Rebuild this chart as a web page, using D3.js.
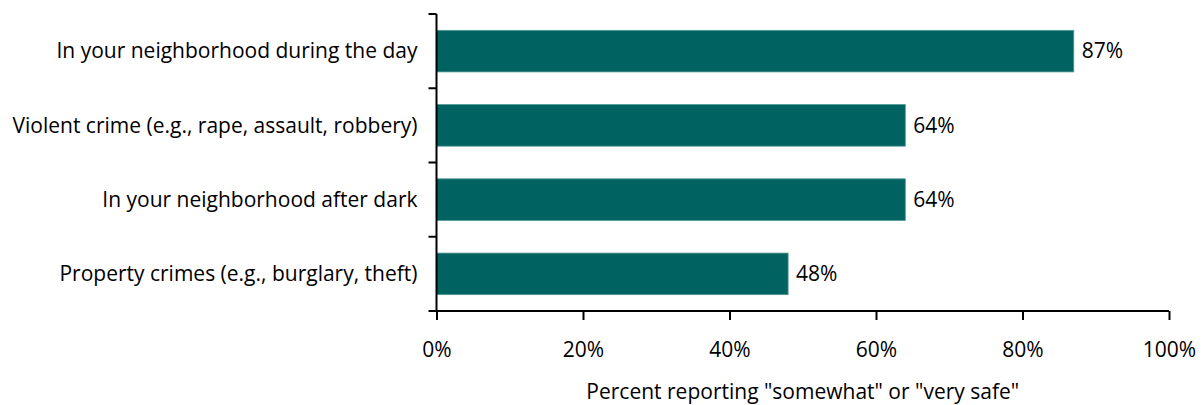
<!DOCTYPE html>
<html>
<head>
<meta charset="utf-8">
<script src="https://cdn.jsdelivr.net/npm/d3@7"></script>
<style>
  html, body { margin: 0; padding: 0; background: #fff; }
  svg text { font-family: "Open Sans", sans-serif; fill: #000; }
</style>
</head>
<body>
<svg id="chart" width="1203" height="405"></svg>
<script>
const categories = [
  "In your neighborhood during the day",
  "Violent crime (e.g., rape, assault, robbery)",
  "In your neighborhood after dark",
  "Property crimes (e.g., burglary, theft)"
];
const values = [87, 64, 64, 48];
const xTicks = [0, 20, 40, 60, 80, 100];
const xTitle = 'Percent reporting "somewhat" or "very safe"';

const svg = d3.select("#chart");
const margin = { left: 436.5, right: 34, top: 14, bottom: 94 };
const W = 1203, H = 405;
const FONT = "'Open Sans', sans-serif";
const FS = 21;

const x = d3.scaleLinear().domain([0, 100]).range([margin.left, W - margin.right]);
const y = d3.scaleBand().domain(categories).range([margin.top, H - margin.bottom]).paddingInner(0.44).paddingOuter(0.22);

// bars
svg.append("g").selectAll("rect").data(values).join("rect")
  .attr("x", x(0))
  .attr("y", (d, i) => y(categories[i]))
  .attr("width", d => x(d) - x(0))
  .attr("height", y.bandwidth())
  .attr("fill", "#006361")
  .attr("stroke", "#4f9894")
  .attr("stroke-width", 0.8);

// value labels
svg.append("g").selectAll("text").data(values).join("text")
  .attr("x", d => x(d) + 8)
  .attr("y", (d, i) => y(categories[i]) + y.bandwidth() / 2)
  .attr("dy", "0.35em")
  .attr("font-size", FS)
  .text(d => d + "%");

// y axis: ticks sit at band boundaries
const yAxisG = svg.append("g").attr("stroke", "#000").attr("stroke-width", 2);
const yBounds = d3.range(categories.length + 1).map(i => margin.top + i * y.step());
yAxisG.append("line").attr("x1", x(0)).attr("x2", x(0)).attr("y1", margin.top).attr("y2", H - margin.bottom);
yAxisG.selectAll("line.t").data(yBounds).join("line").attr("class", "t")
  .attr("x1", x(0) - 8).attr("x2", x(0)).attr("y1", d => d).attr("y2", d => d);

svg.append("g").selectAll("text").data(categories).join("text")
  .attr("x", x(0) - 19)
  .attr("y", d => y(d) + y.bandwidth() / 2)
  .attr("dy", "0.35em")
  .attr("text-anchor", "end")
  .attr("font-size", FS)
  .text(d => d);

// x axis
const xAxis = d3.axisBottom(x).tickValues(xTicks).tickSize(9).tickPadding(22).tickFormat(d => d + "%");
const xg = svg.append("g").attr("transform", `translate(0,${H - margin.bottom})`).call(xAxis);
xg.select(".domain").attr("stroke", "#000").attr("stroke-width", 2).attr("d", `M${x(0)},0H${x(100)}`);
xg.selectAll(".tick line").attr("stroke", "#000").attr("stroke-width", 2);
xg.selectAll(".tick text").attr("font-size", FS).attr("font-family", FONT).attr("fill", "#000");

svg.append("text")
  .attr("x", (x(0) + x(100)) / 2)
  .attr("y", 398.5)
  .attr("text-anchor", "middle")
  .attr("font-size", FS)
  .text(xTitle);
</script>
</body>
</html>
